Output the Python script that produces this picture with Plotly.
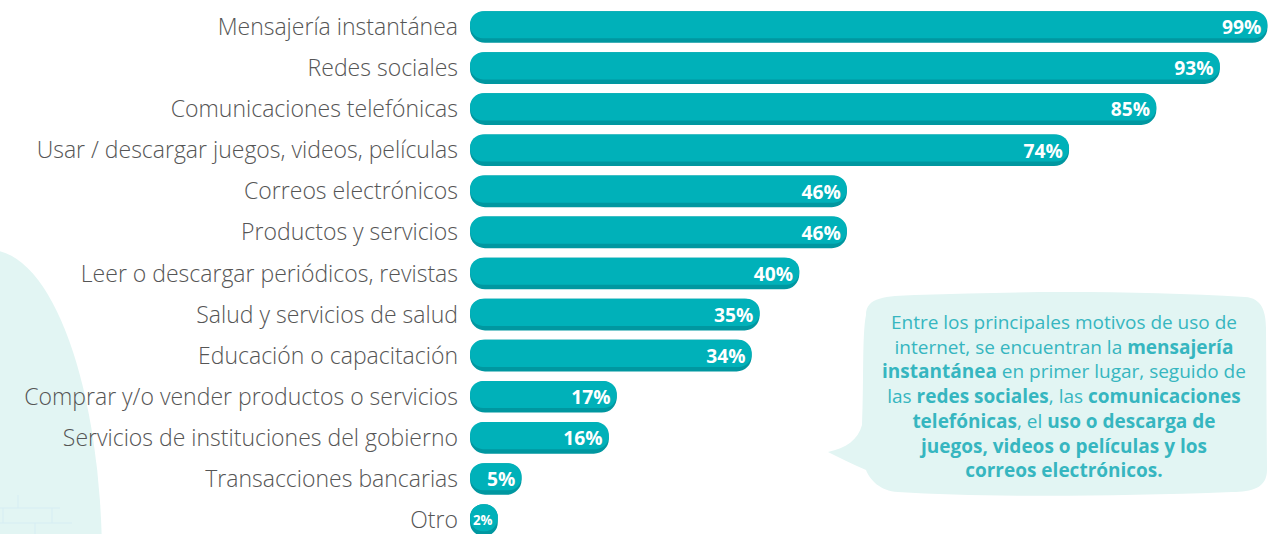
import numpy as np
import plotly.graph_objects as go

categories = [
    "Mensajería instantánea",
    "Redes sociales",
    "Comunicaciones telefónicas",
    "Usar / descargar juegos, videos, películas",
    "Correos electrónicos",
    "Productos y servicios",
    "Leer o descargar periódicos, revistas",
    "Salud y servicios de salud",
    "Educación o capacitación",
    "Comprar y/o vender productos o servicios",
    "Servicios de instituciones del gobierno",
    "Transacciones bancarias",
    "Otro",
]
values = [99, 93, 85, 74, 46, 46, 40, 35, 34, 17, 16, 5, 2]
value_labels = [f"{v}%" for v in values]

W, H = 1269, 534
CAP = 1.5  # rounded-cap allowance on the left of each bar (axis units)
LIGHT = "#00b1b9"
DARK = "#0097a0"
MINT = "#e2f5f3"

v = np.array(values, dtype=float)

fig = go.Figure()

def pill(color, offset, width):
    fig.add_trace(go.Bar(y=categories, x=v + CAP, base=-CAP, orientation="h",
                         marker=dict(color=color, cornerradius="50%", line=dict(width=0)),
                         offset=offset, width=width, hoverinfo="skip", showlegend=False))

pill(DARK, -0.385, 0.77)
pill(LIGHT, -0.385, 0.66)

fig.add_trace(go.Bar(
    y=categories, x=v + CAP, base=-CAP, orientation="h",
    marker=dict(color="rgba(0,0,0,0)", line=dict(width=0)),
    offset=-0.385, width=0.77,
    text=value_labels, texttemplate="%{text}\u2009", textposition="inside",
    insidetextanchor="end", textangle=0, constraintext="inside",
    textfont=dict(family="Open Sans", size=21, color="white", weight="bold"),
    hovertemplate="%{y}: %{text}<extra></extra>", showlegend=False,
))

def px(x, y):
    return f"{x / W:.5f},{1 - y / H:.5f}"

# speech bubble
bubble = (
    f"M {px(866,315)} "
    f"C {px(866,297)} {px(886,296)} {px(915,295)} "
    f"C {px(1050,290)} {px(1150,292)} {px(1245,297)} "
    f"C {px(1262,298)} {px(1266,312)} {px(1266,328)} "
    f"L {px(1267,470)} "
    f"C {px(1267,488)} {px(1252,492)} {px(1232,492)} "
    f"C {px(1100,497)} {px(980,497)} {px(898,492)} "
    f"C {px(880,491)} {px(870,480)} {px(866,470)} "
    f"C {px(852,464)} {px(840,458)} {px(828,452)} "
    f"C {px(846,448)} {px(858,440)} {px(862,425)} "
    f"C {px(864,380)} {px(862,335)} {px(866,315)} Z"
)

shapes = [
    dict(type="circle", xref="paper", yref="paper", layer="below",
         x0=-122 / W, x1=102 / W, y0=1 - 870 / H, y1=1 - 250 / H,
         fillcolor=MINT, line=dict(width=0)),
    dict(type="path", xref="paper", yref="paper", layer="below",
         path=bubble, fillcolor=MINT, line=dict(width=0)),
]
# faint brick pattern bottom-left
brick = "#d6edf3"
for (x0, y0, x1, y1) in [(0, 508, 60, 508), (0, 523, 72, 523), (18, 495, 18, 508),
                         (3, 508, 3, 523), (52, 508, 52, 523), (35, 523, 35, 534)]:
    shapes.append(dict(type="line", xref="paper", yref="paper", layer="below",
                       x0=x0 / W, x1=x1 / W, y0=1 - y0 / H, y1=1 - y1 / H,
                       line=dict(color=brick, width=1)))

bubble_text = (
    "Entre los principales motivos de uso de<br>"
    "internet, se encuentran la <b>mensajería</b><br>"
    "<b>instantánea</b> en primer lugar, seguido de<br>"
    "las <b>redes sociales</b>, las <b>comunicaciones</b><br>"
    "<b>telefónicas</b>, el <b>uso o descarga de</b><br>"
    "<b>juegos, videos o películas y los</b><br>"
    "<b>correos electrónicos.</b>"
)

fig.update_layout(
    width=W, height=H,
    margin=dict(l=0, r=0, t=0, b=0),
    paper_bgcolor="white", plot_bgcolor="rgba(0,0,0,0)",
    barmode="overlay",
    showlegend=False,
    shapes=shapes,
    annotations=[dict(
        text=bubble_text, xref="paper", yref="paper",
        x=1064 / W, y=1 - 396 / H, xanchor="center", yanchor="middle",
        showarrow=False, align="center",
        font=dict(family="Open Sans", size=19, color="#36b6c0"),
    )],
    xaxis=dict(domain=[470 / W, 1], range=[-CAP, 99.2], visible=False, fixedrange=True),
    yaxis=dict(
        type="category", categoryorder="array", categoryarray=categories,
        range=[12.34, -0.657], automargin=False,
        showgrid=False, zeroline=False, showline=False,
        ticks="", ticklabelstandoff=11,
        tickfont=dict(family="Open Sans", size=23, color="#555555", weight=300),
        fixedrange=True,
    ),
)

fig.write_html("out.html", config={"displayModeBar": False},
               post_script="document.body.style.margin='0';")
